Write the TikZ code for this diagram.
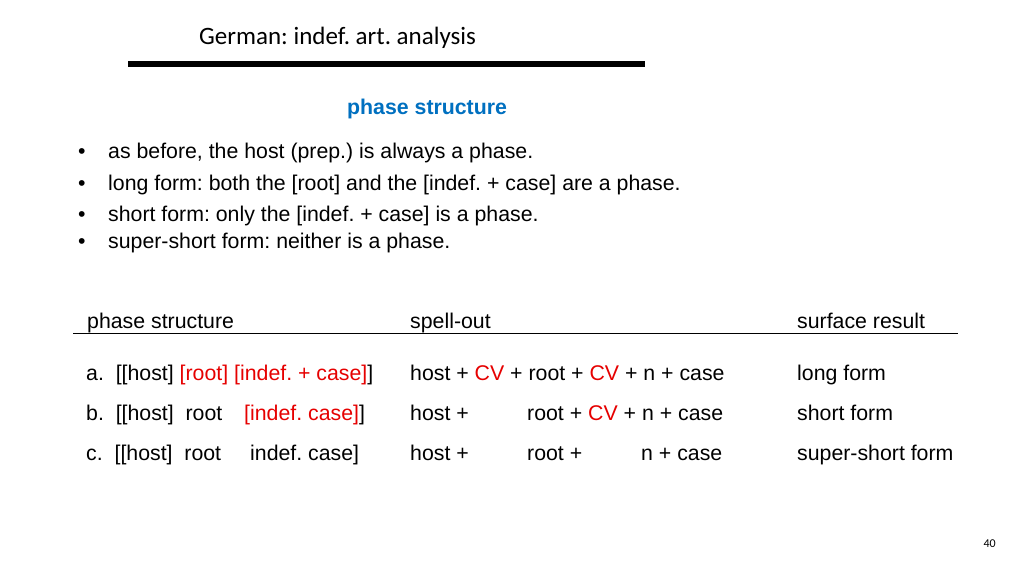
\documentclass[tikz,border=0pt]{standalone}
\usepackage{fontspec}
\setmainfont{Liberation Sans}
\newfontfamily\titlefont{Carlito}
\definecolor{slideblue}{RGB}{0,112,192}
\definecolor{slidered}{RGB}{230,0,0}
\tikzset{
  txt/.style={anchor=base west, inner sep=0pt, font=\fontsize{21.3}{24}\selectfont},
  bul/.style={txt},
}
\newcommand{\rd}[1]{\textcolor{slidered}{#1}}
\frenchspacing
\begin{document}
\begin{tikzpicture}[x=1pt,y=-1pt]
	\useasboundingbox[fill=white] (0,0) rectangle (1024,576);
	% title
	\node[anchor=base west, inner sep=0pt, font=\titlefont\fontsize{25}{29}\selectfont] (title) at (199,44) {German: indef. art. analysis};
	\draw[line width=6pt] (128,64) -- (645,64);
	\node[txt, font=\bfseries\fontsize{21.3}{24}\selectfont, text=slideblue] (sub) at (347,114) {phase structure};
	% bullets
	\foreach \y/\t [count=\i] in {158/{as before, the host (prep.) is always a phase.},
		190/{long form: both the [root] and the [indef. + case] are a phase.},
		221/{short form: only the [indef. + case] is a phase.},
		248/{super-short form: neither is a phase.}}
	{
		\node[bul] (dot\i) at (78,\y) {\textbullet};
		\node[txt] (bul\i) at (108,\y) {\t};
	}
	% table header
	\node[txt] (hphase) at (87,328) {phase structure};
	\node[txt] (hspell) at (410,328) {spell-out};
	\node[txt] (hsurf) at (797,328) {surface result};
	\draw (73,333) -- (958,333);
	% row a
	\node[txt] (ra) at (86,380) {a.\ \ [[host] \rd{[root] [indef. + case]}]};
	\node[txt] (sa) at (410,380) {host + \rd{CV} + root + \rd{CV} + n + case};
	\node[txt] (fa) at (797,380) {long form};
	% row b
	\node[txt] (rb) at (86,420) {b.\ \ [[host]\ \ root};
	\node[txt] (rb2) at (244,420) {\rd{[indef. case]}]};
	\node[txt] (sb) at (410,420) {host +};
	\node[txt] (sb2) at (527,420) {root + \rd{CV} + n + case};
	\node[txt] (fb) at (797,420) {short form};
	% row c
	\node[txt] (rc) at (86,460) {c.\ \ [[host]\ \ root};
	\node[txt] (rc2) at (250,460) {indef. case]};
	\node[txt] (sc) at (410,460) {host +};
	\node[txt] (sc2) at (527,460) {root +};
	\node[txt] (sc3) at (641,460) {n + case};
	\node[txt] (fc) at (797,460) {super-short form};
	% page number
	\node[anchor=base east, inner sep=0pt, font=\titlefont\fontsize{12}{14}\selectfont] (pg) at (996,547) {40};
\end{tikzpicture}
\end{document}
